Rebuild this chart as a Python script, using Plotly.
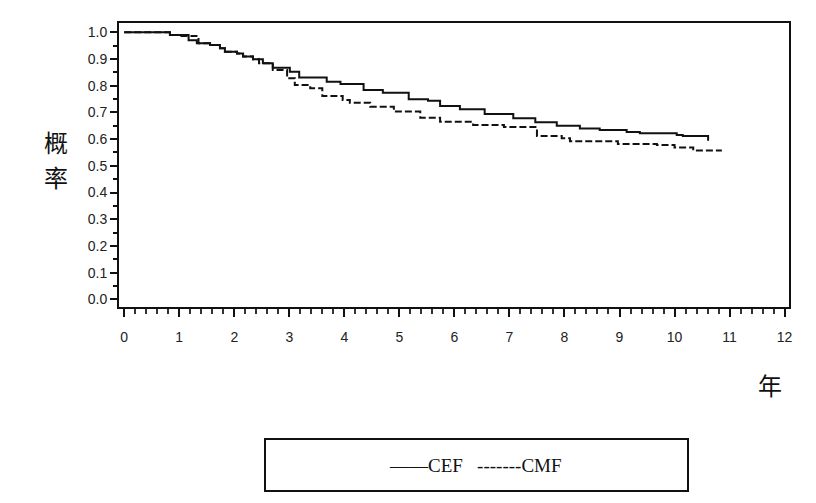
import plotly.graph_objects as go

# CEF (solid) Kaplan-Meier steps: time (years) and survival probability
cef_t = [0, 0.83, 1.17, 1.32, 1.56, 1.74, 1.83, 2.05, 2.16, 2.34, 2.52, 2.7, 3.01, 3.18,
         3.68, 3.93, 4.35, 4.7, 5.17, 5.52, 5.74, 6.1, 6.55, 7.07, 7.47, 7.86, 8.28, 8.64,
         9.13, 9.37, 10.04, 10.15, 10.61]
cef_s = [1.0, 0.99, 0.97, 0.959, 0.952, 0.94, 0.927, 0.921, 0.909, 0.899, 0.884, 0.867,
         0.852, 0.831, 0.815, 0.806, 0.784, 0.774, 0.749, 0.744, 0.724, 0.712, 0.694, 0.678,
         0.663, 0.650, 0.640, 0.634, 0.627, 0.622, 0.615, 0.612, 0.594]

# CMF (dashed)
cmf_t = [0, 0.83, 1.0, 1.35, 1.56, 1.74, 1.83, 2.05, 2.16, 2.34, 2.45, 2.7, 2.96, 3.1,
         3.38, 3.6, 3.97, 4.1, 4.47, 4.9, 5.38, 5.74, 6.34, 6.9, 7.5, 7.95, 8.1, 8.97,
         9.68, 10.0, 10.34, 10.86]
cmf_s = [1.0, 0.99, 0.986, 0.959, 0.952, 0.94, 0.927, 0.921, 0.909, 0.899, 0.884, 0.859,
         0.828, 0.803, 0.790, 0.761, 0.746, 0.736, 0.721, 0.703, 0.680, 0.665, 0.653, 0.645,
         0.612, 0.603, 0.592, 0.582, 0.578, 0.569, 0.557, 0.557]

y_ticks = [0.0, 0.1, 0.2, 0.3, 0.4, 0.5, 0.6, 0.7, 0.8, 0.9, 1.0]
x_ticks = list(range(0, 13))
legend_text = "——CEF   -------CMF"
y_title = ["概", "率"]
x_title = "年"

# page has an 8px body margin; work in figure coordinates
OFF = 8
W, H = 800, 487
L, R, T, B = 119 - OFF, 789 - OFF, 23 - OFF, 307 - OFF

fig = go.Figure()
fig.add_trace(go.Scatter(x=cef_t, y=cef_s, mode="lines", line_shape="hv",
                         line=dict(color="#111", width=2), name="CEF"))
fig.add_trace(go.Scatter(x=cmf_t, y=cmf_s, mode="lines", line_shape="hv",
                         line=dict(color="#111", width=2, dash="7px,3px"), name="CMF"))

tickfont = dict(family="Liberation Sans, Arial, sans-serif", size=14, color="#222")

fig.update_layout(
    width=W, height=H,
    margin=dict(l=L, r=W - R, t=T, b=H - B, pad=0),
    paper_bgcolor="white", plot_bgcolor="white",
    showlegend=False,
    xaxis=dict(range=[-0.0945, 12.08], tickvals=x_ticks, ticktext=[str(v) for v in x_ticks],
               ticks="outside", ticklen=8, tickwidth=2, tickcolor="#111",
               minor=dict(dtick=0.2, tick0=0, ticks="outside", ticklen=5, tickwidth=1.5,
                          tickcolor="#333"),
               showline=True, mirror=True, linecolor="#111", linewidth=2,
               showgrid=False, zeroline=False, tickfont=tickfont, ticklabelstandoff=8),
    yaxis=dict(range=[-0.0288, 1.0348], tickvals=y_ticks,
               ticktext=[f"{v:.1f}" for v in y_ticks],
               ticks="outside", ticklen=7, tickwidth=1.5, tickcolor="#111",
               minor=dict(dtick=0.05, tick0=0, ticks="outside", ticklen=4, tickwidth=1.5,
                          tickcolor="#111"),
               showline=True, mirror=True, linecolor="#111", linewidth=2,
               showgrid=False, zeroline=False, tickfont=tickfont),
)

def px_x(p):
    return (p - OFF - L) / (R - L)

def px_y(p):
    return (B - (p - OFF)) / (B - T)

cjk = dict(family="Noto Sans CJK SC, sans-serif", size=24, color="#111")
fig.add_annotation(x=px_x(56), y=px_y(141), xref="paper", yref="paper", text=y_title[0],
                   showarrow=False, font=cjk, xanchor="center", yanchor="middle")
fig.add_annotation(x=px_x(56), y=px_y(177), xref="paper", yref="paper", text=y_title[1],
                   showarrow=False, font=cjk, xanchor="center", yanchor="middle")
fig.add_annotation(x=px_x(770), y=px_y(384), xref="paper", yref="paper", text=x_title,
                   showarrow=False, font=cjk, xanchor="center", yanchor="middle")

# legend box
fig.add_shape(type="rect", xref="paper", yref="paper",
              x0=px_x(265), x1=px_x(688), y0=px_y(491), y1=px_y(439),
              line=dict(color="#111", width=2), fillcolor="rgba(0,0,0,0)")
fig.add_annotation(x=px_x(475), y=px_y(465), xref="paper", yref="paper", text=legend_text,
                   showarrow=False, xanchor="center", yanchor="middle",
                   font=dict(family="Liberation Serif, Times New Roman, serif", size=19,
                             color="#111"))

fig.write_html("out.html")
